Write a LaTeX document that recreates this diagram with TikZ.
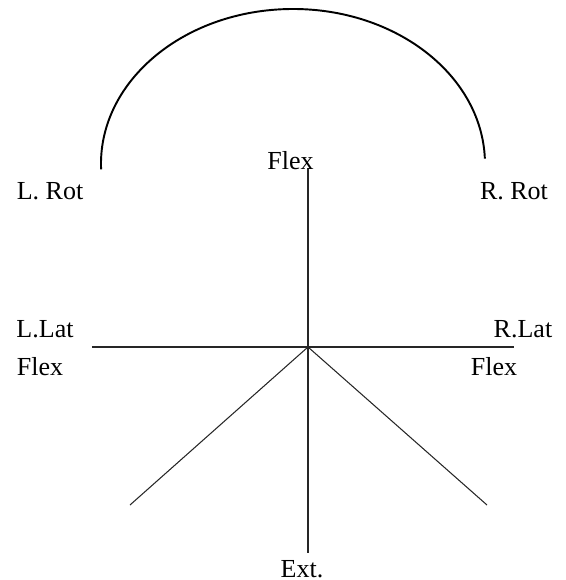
\documentclass[tikz,border=0pt]{standalone}
\usepackage{fontspec}
\setmainfont{Liberation Serif}
\usetikzlibrary{positioning}
\tikzset{
  raio/.style={black!85, line width=0.6pt},
  arco/.style={black, line width=1.1pt},
  rot/.style={font=\fontsize{14.8}{17}\selectfont, inner sep=0pt, anchor=base},
}

\begin{document}
\begin{tikzpicture}

  \useasboundingbox (-6.16,-4.66) rectangle (5.16,6.94);

  \coordinate (c)     at (0,0);
  \coordinate (topo)  at (0,3.58);
  \coordinate (base)  at (0,-4.12);
  \coordinate (esq)   at (-4.32,0);
  \coordinate (dir)   at (4.12,0);
  \coordinate (diagE) at (-3.56,-3.16);
  \coordinate (diagD) at (3.58,-3.16);
  \coordinate (aE)    at (-4.138,3.552);

  % eixos
  \draw[raio] (topo) -- (c) -- (base);
  \draw[raio] (esq) -- (c) -- (dir);
  \draw[raio] (diagE) -- (c) -- (diagD);

  % arco de rotação
  \draw[arco] (aE) arc[start angle=182, end angle=2, x radius=3.84, y radius=3.10];

  % rótulos
  \node[rot] (flexS) at (-0.35,3.54)  {Flex};
  \node[rot] (lrot)  at (-5.16,2.94)  {L. Rot};
  \node[rot] (rrot)  at (4.12,2.94)   {R. Rot};
  \node[rot] (llat)  at (-5.26,0.20)  {L.Lat};
  \node[rot] (lflex) at (-5.36,-0.58) {Flex};
  \node[rot] (rlat)  at (4.30,0.20)   {R.Lat};
  \node[rot] (rflex) at (3.72,-0.58)  {Flex};
  \node[rot] (ext)   at (-0.12,-4.60) {Ext.};

\end{tikzpicture}
\end{document}
